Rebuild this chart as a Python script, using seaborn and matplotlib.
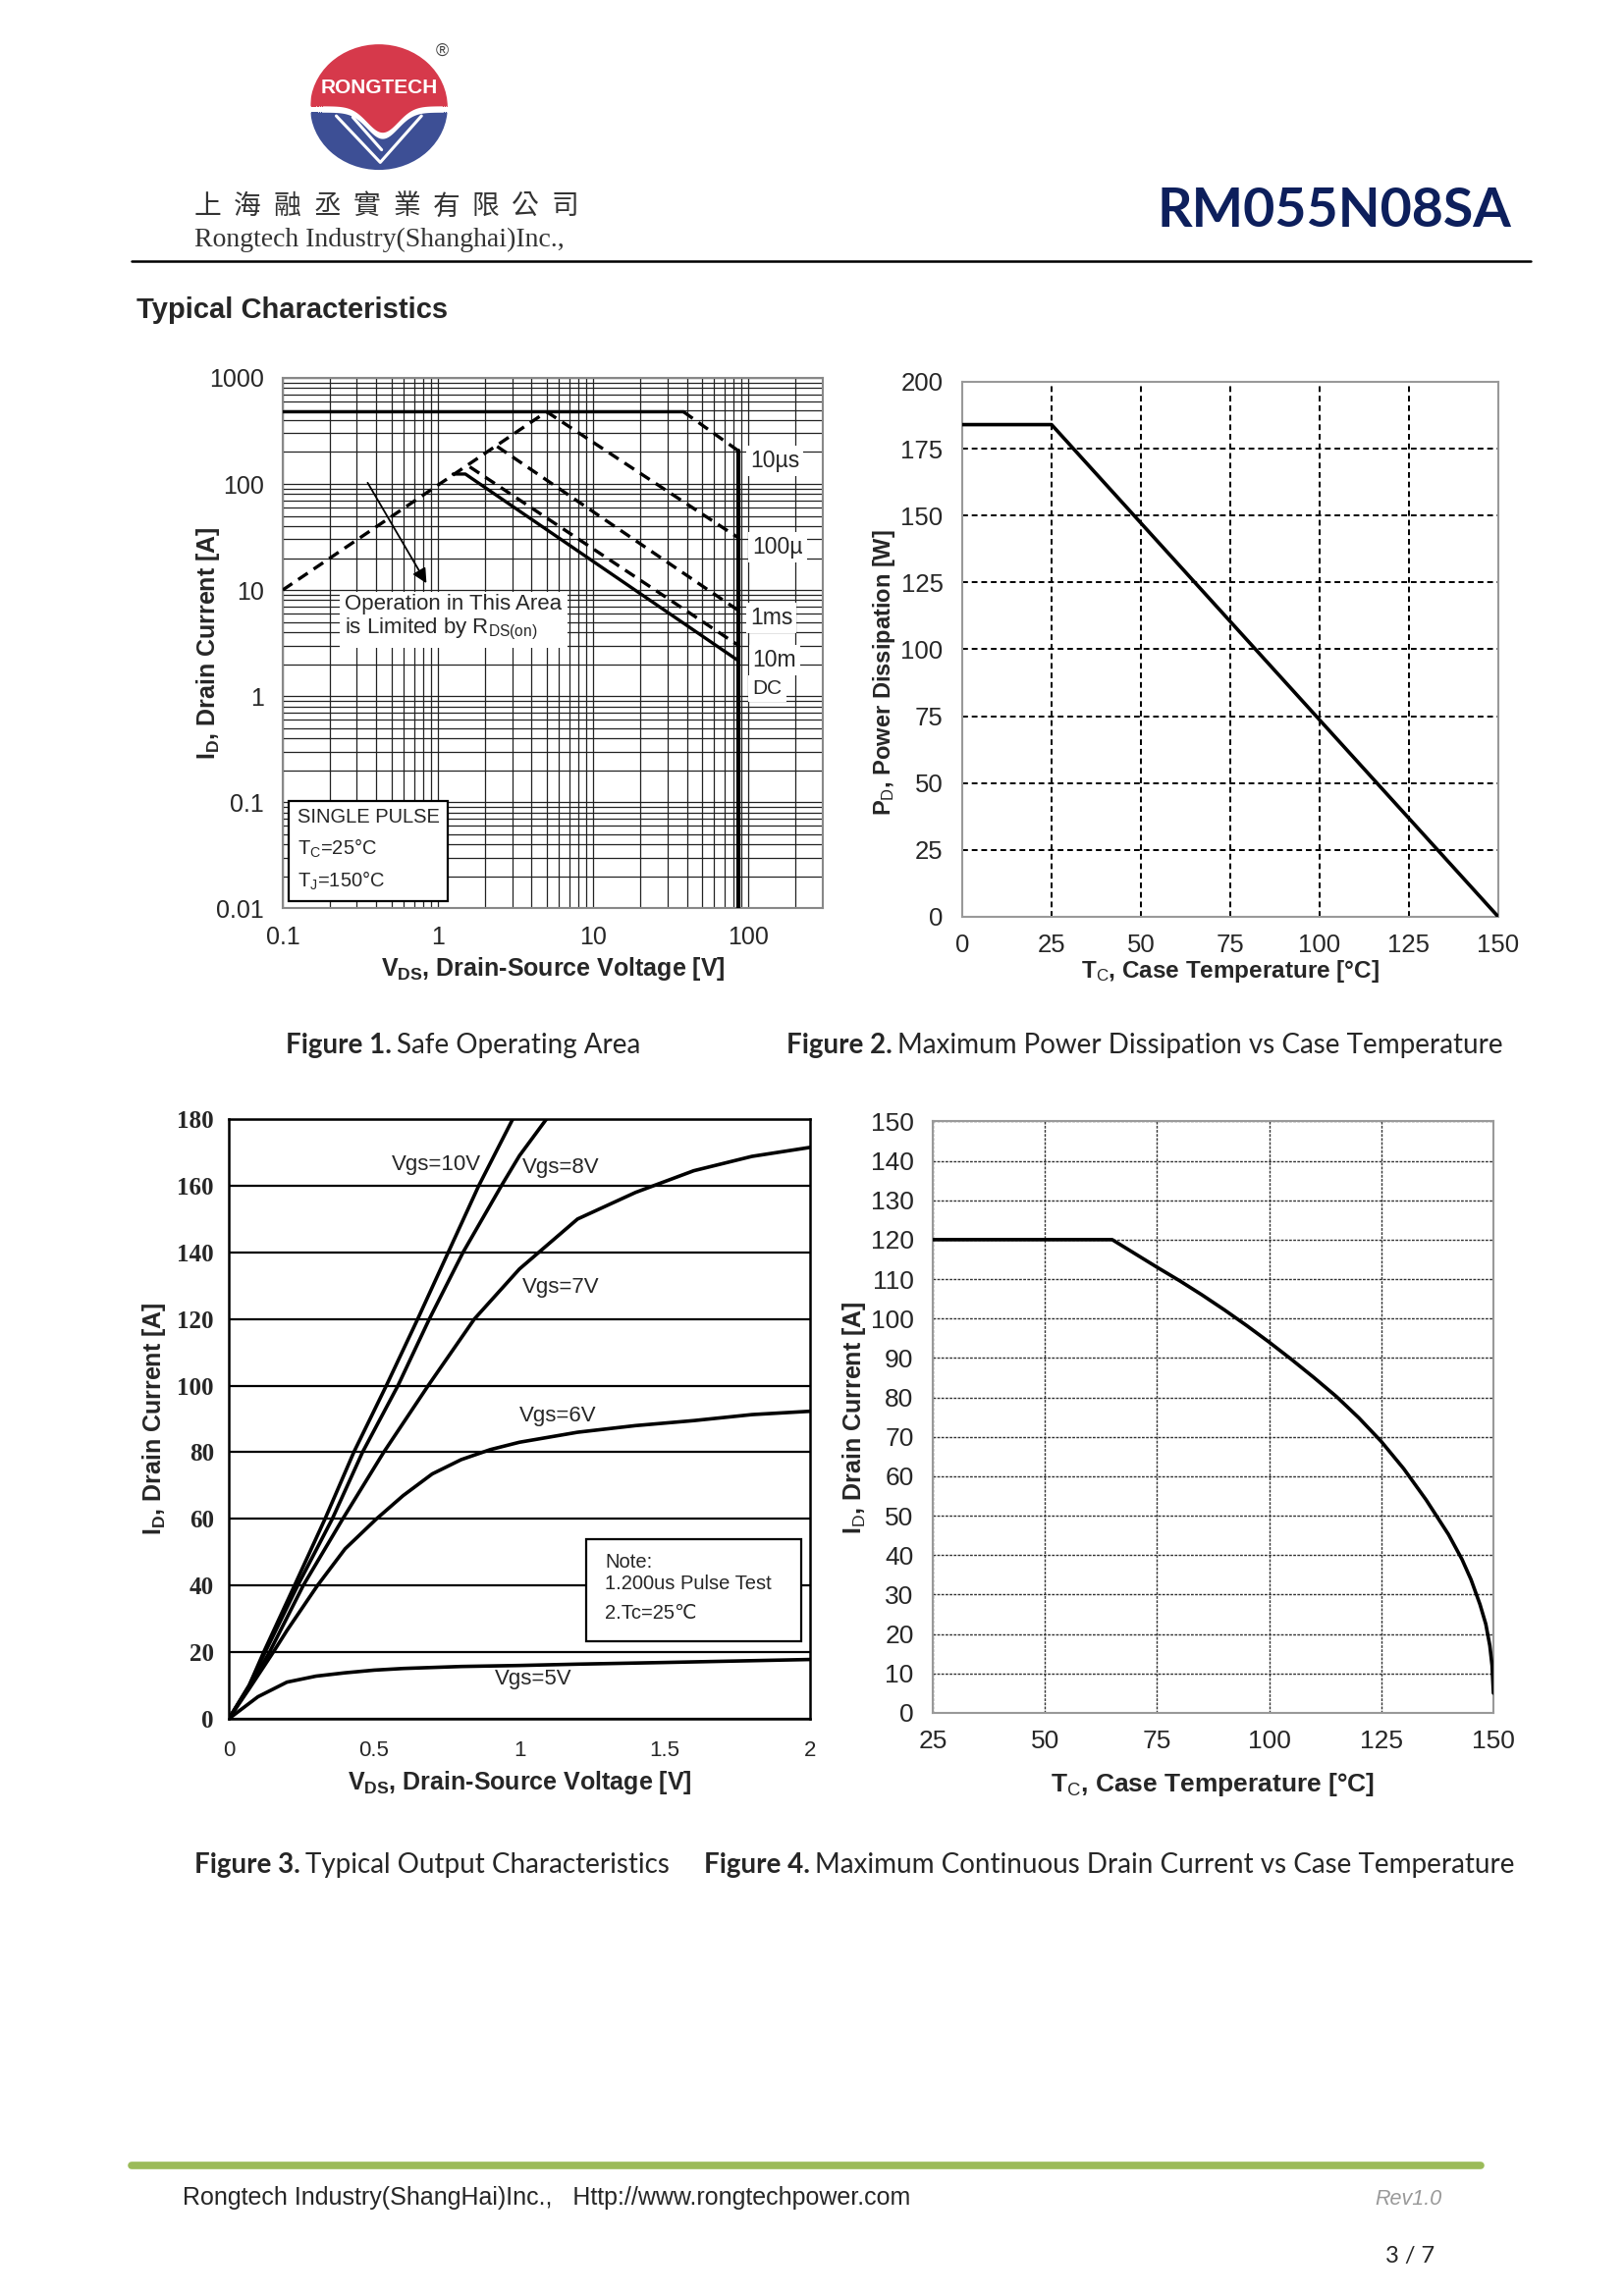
import numpy as np
import pandas as pd
import matplotlib
matplotlib.use("Agg")
import matplotlib.pyplot as plt
import seaborn as sns
from matplotlib.lines import Line2D
from matplotlib.patches import Ellipse, Rectangle
from matplotlib.ticker import LogLocator, FixedLocator, NullFormatter

# ─── Data ─────────────────────────────────────────────────────────────────────
# Figure 1 – safe operating area (log-log)
soa_vds_lim, soa_id_lim = [0.1, 38.0], [480, 480]
soa_vds_10us, soa_id_10us = [38.0, 86.0], [480, 205]
soa_vds_rds, soa_id_rds = [0.1, 5.0], [10, 480]
soa_vds_100us, soa_id_100us = [5.0, 86.0], [480, 31]
soa_vds_1ms, soa_id_1ms = [2.4, 86.0], [226, 6.4]
soa_vds_10ms, soa_id_10ms = [1.6, 86.0], [145, 3.0]
soa_vds_dc, soa_id_dc = [1.25, 1.5, 86.0], [124, 124, 2.15]
soa_vds_bv, soa_id_bv = [86.0, 86.0], [205, 0.01]
soa_xticks = [0.1, 1, 10, 100]
soa_yticks = [0.01, 0.1, 1, 10, 100, 1000]

# Figure 2 – power dissipation vs case temperature
pd_tc = [0, 25, 150]
pd_w = [184, 184, 0]

# Figure 3 – output characteristics
vds_10 = [0, 0.07, 0.12, 0.226, 0.331, 0.43, 0.542, 0.65, 0.755, 0.86, 0.977]
id_10 = [0, 10, 20, 40, 60, 80, 100, 120, 140, 160, 180]
vds_8 = [0, 0.07, 0.125, 0.237, 0.356, 0.46, 0.582, 0.69, 0.806, 0.938, 1.0, 1.093]
id_8 = [0, 10, 20, 40, 60, 80, 100, 120, 140, 160, 169, 180]
vds_7 = [0, 0.07, 0.14, 0.256, 0.392, 0.533, 0.686, 0.845, 1.0, 1.2, 1.4, 1.6, 1.8, 2.0]
id_7 = [0, 9.5, 20, 40, 60, 80, 100, 120, 135, 150, 158, 164.5, 168.8, 171.5]
vds_6 = [0, 0.07, 0.153, 0.2, 0.305, 0.4, 0.508, 0.6, 0.7, 0.8, 0.9, 1.0, 1.2, 1.4, 1.6, 1.8, 2.0]
id_6 = [0, 9, 20, 26.5, 40, 51, 60, 67, 73.5, 77.8, 80.8, 83, 86, 88, 89.5, 91.3, 92.3]
vds_5 = [0, 0.1, 0.2, 0.3, 0.4, 0.5, 0.6, 0.8, 1.0, 1.2, 1.5, 2.0]
id_5 = [0, 6.6, 11, 12.8, 13.8, 14.6, 15.1, 15.7, 16.0, 16.4, 16.9, 17.8]

# Figure 4 – continuous drain current vs case temperature
id_tc = [25, 65, 70, 75, 80, 85, 90, 95, 100, 105, 110, 115, 120, 125, 130, 135,
         140, 143, 145, 147, 148.3, 149.2, 149.7, 150]
id_a = [120, 120, 116.5, 113, 109.6, 106, 102.2, 98.2, 94, 89.6, 85, 80.2, 74.8,
        68.8, 61.9, 54, 45.2, 38.9, 33.8, 27.5, 22.5, 17, 12, 5]
# ──────────────────────────────────────────────────────────────────────────────

sns.set_theme(style="white")
plt.rcParams["font.family"] = ["Liberation Sans", "DejaVu Sans", "Noto Sans CJK SC"]
plt.rcParams["mathtext.fontset"] = "custom"
plt.rcParams["mathtext.rm"] = "Liberation Sans"
plt.rcParams["mathtext.bf"] = "Liberation Sans:bold"
plt.rcParams["mathtext.it"] = "Liberation Sans:italic"

W, H = 1109, 1568  # layout reference grid (page coordinates)


def fx(x):
    return x / W


def fy(y):
    return 1 - y / H


fig = plt.figure(figsize=(16.54, 23.39), dpi=100)
fig.patch.set_facecolor("white")

# ─── Header ──────────────────────────────────────────────────────────────────
lax = fig.add_axes([0.191, 0.926, 0.0846, 0.0547])
lax.set_xlim(-1, 1); lax.set_ylim(-1, 1); lax.axis("off")
clip = Ellipse((0, 0), 2, 2, transform=lax.transData)
xs = np.linspace(-1, 1, 200)
edge = 0.02 - 0.42 * np.exp(-((xs - 0.05) / 0.32) ** 2)
for art in [lax.fill_between(xs, edge, 1.1, color="#d6394b", lw=0),
            lax.fill_between(xs, -1.1, edge - 0.10, color="#3d4f95", lw=0)]:
    art.set_clip_path(clip)
for xx, yy in [([-0.62, 0.02, 0.62], [-0.14, -0.88, -0.14]),
               ([-0.38, 0.04], [-0.16, -0.68])]:
    ln, = lax.plot(xx, yy, color="white", lw=2.2)
    ln.set_clip_path(clip)
lax.text(0, 0.30, "RONGTECH", color="white", fontsize=15, fontweight="bold",
         ha="center", va="center")
fig.text(fx(302), fy(35), "®", fontsize=13, ha="center", va="center", color="#444")

for i, ch in enumerate("上海融丞實業有限公司"):
    fig.text(fx(142 + i * 27.1), fy(141), ch, fontsize=20, color="#333",
             family=["Noto Sans CJK TC", "DejaVu Sans"], ha="center", va="center")
fig.text(fx(133), fy(164), "Rongtech Industry(Shanghai)Inc.,", fontsize=20,
         family=["Liberation Serif"], color="#333", ha="left", va="center")
fig.text(fx(1032), fy(144), "RM055N08SA", fontsize=40, fontweight="bold",
         family=["Lato", "DejaVu Sans"], color="#0d1f5c", ha="right", va="center")
fig.add_artist(Line2D([fx(90), fx(1045)], [fy(178)] * 2, lw=1.8, color="black"))
fig.text(fx(93), fy(212), "Typical Characteristics", fontsize=21,
         fontweight="bold", ha="left", va="center")


def set_labels(ax, xl, yl, xpos, ypos, xsize=18, ysize=18, ycen=0.5):
    ax.set_xlabel(xl, fontsize=xsize, fontweight="bold")
    ax.set_ylabel(yl, fontsize=ysize, fontweight="bold")
    ax.xaxis.set_label_coords(0.5, xpos)
    ax.yaxis.set_label_coords(ypos, ycen)
    ax.xaxis.label.set_va("center")
    ax.yaxis.label.set_va("center")


def frame(ax, color, lw=1.5):
    for s in ax.spines.values():
        s.set_visible(True)
        s.set_color(color)
        s.set_linewidth(lw)


def line(ax, x, y, dashed=False, lw=2.4):
    df = pd.DataFrame({"x": x, "y": y})
    sns.lineplot(data=df, x="x", y="y", ax=ax, color="black", lw=lw,
                 estimator=None, sort=False, zorder=5,
                 linestyle=(0, (3.5, 2.2)) if dashed else "-")


# ─── Figure 1: SOA ───────────────────────────────────────────────────────────
ax1 = fig.add_axes([0.1741, 0.6045, 0.3325, 0.2309])
ax1.set_xscale("log"); ax1.set_yscale("log")
ax1.set_xlim(0.1, 300); ax1.set_ylim(0.01, 1000)
line(ax1, soa_vds_lim, soa_id_lim)
line(ax1, soa_vds_10us, soa_id_10us, dashed=True)
line(ax1, soa_vds_rds, soa_id_rds, dashed=True)
line(ax1, soa_vds_100us, soa_id_100us, dashed=True)
line(ax1, soa_vds_1ms, soa_id_1ms, dashed=True)
line(ax1, soa_vds_10ms, soa_id_10ms, dashed=True)
line(ax1, soa_vds_dc, soa_id_dc)
line(ax1, soa_vds_bv, soa_id_bv, lw=3)
ax1.xaxis.set_major_locator(FixedLocator(soa_xticks))
ax1.yaxis.set_major_locator(FixedLocator(soa_yticks))
ax1.set_xticklabels([f"{v:g}" for v in soa_xticks])
ax1.set_yticklabels([f"{v:g}" for v in soa_yticks])
ax1.xaxis.set_minor_locator(LogLocator(base=10, subs=range(2, 10), numticks=20))
ax1.yaxis.set_minor_locator(LogLocator(base=10, subs=range(2, 10), numticks=20))
ax1.xaxis.set_minor_formatter(NullFormatter())
ax1.yaxis.set_minor_formatter(NullFormatter())
ax1.grid(which="both", color="#222", lw=0.9)
ax1.tick_params(which="both", length=0, labelsize=18)
ax1.tick_params(axis="x", pad=13)
ax1.tick_params(axis="y", pad=14)
frame(ax1, "#888")
set_labels(ax1, r"V$_{\mathbf{DS}}$, Drain-Source Voltage [V]",
           r"I$_{\mathbf{D}}$, Drain Current [A]", -0.115, -0.138)

wb = dict(facecolor="white", edgecolor="none", pad=3)
for txt, xa, ya in [("10µs", 0.911, 0.843), ("100µ", 0.916, 0.680),
                    ("1ms", 0.905, 0.547), ("10m", 0.911, 0.467),
                    ("DC", 0.897, 0.414)]:
    ax1.text(xa, ya, txt, transform=ax1.transAxes, fontsize=16.5 if txt != "DC" else 15,
             ha="center", va="center", bbox=wb, zorder=6)
ax1.text(0.115, 0.547, "Operation in This Area\nis Limited by R$_{\\mathrm{DS(on)}}$",
         transform=ax1.transAxes, fontsize=16, ha="left", va="center",
         linespacing=1.1, bbox=dict(facecolor="white", edgecolor="none", pad=4), zorder=6)
ax1.annotate("", xy=(0.86, 11), xytext=(0.345, 108),
             arrowprops=dict(arrowstyle="-|>", color="black", lw=1.3,
                             mutation_scale=22), zorder=6)
ax1.add_patch(Rectangle((0.0108, 0.0138), 0.295, 0.188, transform=ax1.transAxes,
                        facecolor="white", edgecolor="black", lw=1.6, zorder=6))
for txt, ya in [("SINGLE PULSE", 0.171), ("T$_\\mathrm{C}$=25°C", 0.113),
                ("T$_\\mathrm{J}$=150°C", 0.052)]:
    ax1.text(0.027, ya, txt, transform=ax1.transAxes, fontsize=14.5,
             ha="left", va="center", zorder=7)

# ─── Figure 2: power dissipation ─────────────────────────────────────────────
ax2 = fig.add_axes([0.5925, 0.6007, 0.3301, 0.2330])
line(ax2, pd_tc, pd_w, lw=2.6)
ax2.set_xlim(0, 150); ax2.set_ylim(0, 200)
ax2.set_xticks(range(0, 151, 25)); ax2.set_yticks(range(0, 201, 25))
ax2.grid(True, color="black", lw=1.4, linestyle=(0, (3, 2)))
ax2.tick_params(length=0, labelsize=18.5)
ax2.tick_params(axis="x", pad=12)
ax2.tick_params(axis="y", pad=14)
frame(ax2, "#999")
set_labels(ax2, r"T$_{\mathrm{C}}$, Case Temperature [°C]",
           r"P$_{\mathrm{D}}$, Power Dissipation [W]", -0.101, -0.145,
           xsize=17.5, ysize=17, ycen=0.457)

# ─── Figure 3: output characteristics ────────────────────────────────────────
ax3 = fig.add_axes([0.1409, 0.2514, 0.3579, 0.2612])
for vx, iy in [(vds_10, id_10), (vds_8, id_8), (vds_7, id_7), (vds_6, id_6), (vds_5, id_5)]:
    line(ax3, vx, iy, lw=2.6)
ax3.set_xlim(0, 2); ax3.set_ylim(0, 180)
ax3.set_xticks([0, 0.5, 1, 1.5, 2]); ax3.set_xticklabels(["0", "0.5", "1", "1.5", "2"])
ax3.set_yticks(range(0, 181, 20))
ax3.yaxis.grid(True, color="black", lw=1.6)
ax3.xaxis.grid(False)
ax3.tick_params(length=5, width=1.5, direction="out", color="black")
ax3.tick_params(axis="x", pad=11, labelsize=16)
ax3.tick_params(axis="y", pad=6, labelsize=18)
for t in ax3.get_yticklabels():
    t.set_family(["Liberation Serif"]); t.set_fontweight("bold")
frame(ax3, "black", 1.8)
set_labels(ax3, r"V$_{\mathbf{DS}}$, Drain-Source Voltage [V]",
           r"I$_{\mathbf{D}}$, Drain Current [A]", -0.107, -0.128)
for txt, xv, yv in [("Vgs=10V", 0.715, 166.4), ("Vgs=8V", 1.144, 165.5),
                    ("Vgs=7V", 1.144, 129.5), ("Vgs=6V", 1.133, 90.9),
                    ("Vgs=5V", 1.048, 11.9)]:
    ax3.text(xv, yv, txt, fontsize=16, ha="center", va="center", zorder=7)
ax3.add_patch(Rectangle((1.229, 23.3), 0.741, 30.7, facecolor="white",
                        edgecolor="black", lw=1.6, zorder=6))
for txt, yv in [("Note:", 47.0), ("1.200us Pulse Test", 40.4), ("2.Tc=25℃", 31.6)]:
    ax3.text(1.294, yv, txt, fontsize=14.5, ha="left", va="center", zorder=7)

# ─── Figure 4: continuous drain current ──────────────────────────────────────
ax4 = fig.add_axes([0.5744, 0.2540, 0.3452, 0.2576])
line(ax4, id_tc, id_a, lw=2.6)
ax4.set_xlim(25, 150); ax4.set_ylim(0, 150)
ax4.set_xticks(range(25, 151, 25)); ax4.set_yticks(range(0, 151, 10))
ax4.grid(True, color="#333", lw=1.0, linestyle=(0, (2, 1)))
ax4.tick_params(length=0, labelsize=19)
ax4.tick_params(axis="x", pad=12)
ax4.tick_params(axis="y", pad=14)
frame(ax4, "#999")
set_labels(ax4, r"T$_{\mathrm{C}}$, Case Temperature [°C]",
           r"I$_{\mathrm{D}}$, Drain Current [A]", -0.121, -0.141, xsize=19)

# ─── Captions ────────────────────────────────────────────────────────────────
renderer = fig.canvas.get_renderer()


def caption(x, y, bold, rest, size=20):
    t = fig.text(fx(x), fy(y), bold, fontsize=size, fontweight="bold",
                 family=["Lato", "DejaVu Sans"], ha="left", va="center")
    bb = t.get_window_extent(renderer)
    fig.text(bb.x1 / fig.bbox.width + 0.003, fy(y), rest, fontsize=size,
             family=["Lato", "DejaVu Sans"], ha="left", va="center")


caption(195, 714, "Figure 1.", "Safe Operating Area")
caption(537, 714, "Figure 2.", "Maximum Power Dissipation vs Case Temperature")
caption(133, 1274, "Figure 3.", "Typical Output Characteristics")
caption(481, 1274, "Figure 4.", "Maximum Continuous Drain Current vs Case Temperature")

# ─── Footer ──────────────────────────────────────────────────────────────────
fig.add_artist(Line2D([fx(90), fx(1011)], [fy(1479)] * 2, lw=5.5, color="#9bbb59"))
fig.text(fx(125), fy(1501), "Rongtech Industry(ShangHai)Inc.,   Http://www.rongtechpower.com",
         fontsize=18, ha="left", va="center")
fig.text(fx(985), fy(1502), "Rev1.0", fontsize=15.5, style="italic", color="#999",
         ha="right", va="center")
fig.text(fx(980), fy(1541), "3 / 7", fontsize=17, family=["Lato", "DejaVu Sans"],
         ha="right", va="center")

fig.savefig("out.png", dpi=100, facecolor="white")
